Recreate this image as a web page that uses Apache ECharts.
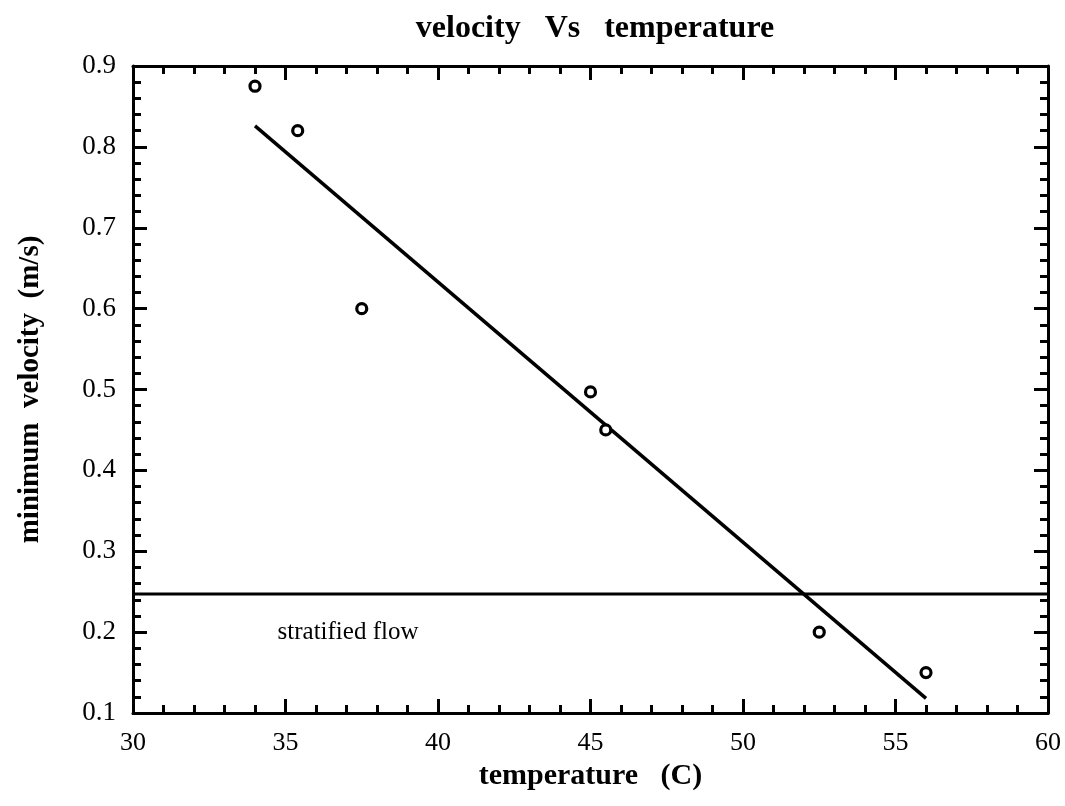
<!DOCTYPE html>
<html>
<head>
<meta charset="utf-8">
<script src="https://cdn.jsdelivr.net/npm/echarts@6/dist/echarts.min.js"></script>
<style>html,body{margin:0;padding:0;background:#fff;}#c{width:1065px;height:806px;}</style>
</head>
<body>
<div id="c"></div>
<script>
const temperatures = [34.0, 35.4, 37.5, 45.0, 45.5, 52.5, 56.0];
const velocities = [0.875, 0.82, 0.6, 0.497, 0.45, 0.2, 0.15];
const fitTemps = [34.0, 56.0];
const fitVelocities = [0.826, 0.118];
const stratTemps = [30, 60];
const stratVelocity = [0.247, 0.247];
const annotation = { text: 'stratified flow', x: 37.05, y: 0.2 };

const FONT = '"Liberation Serif", "Times New Roman", serif';
const chart = echarts.init(document.getElementById('c'), null, { renderer: 'canvas' });

const axisCommon = {
  type: 'value',
  axisLine: { show: true, onZero: false, lineStyle: { color: '#000', width: 3 } },
  axisTick: { show: true, inside: true, length: 14, lineStyle: { color: '#000', width: 3 } },
  minorTick: { show: true, splitNumber: 5, length: 8, lineStyle: { color: '#000', width: 3 } },
  splitLine: { show: false },
  minorSplitLine: { show: false }
};

chart.setOption({
  animation: false,
  backgroundColor: '#fff',
  title: {
    text: 'velocity   Vs   temperature',
    left: 590,
    textAlign: 'center',
    top: 8,
    textStyle: { fontFamily: FONT, fontWeight: 'bold', fontSize: 32, color: '#000' }
  },
  grid: { left: 133, right: 17, top: 66, bottom: 93 },
  xAxis: [
    Object.assign({}, axisCommon, {
      min: 30, max: 60, interval: 5, position: 'bottom',
      name: 'temperature   (C)', nameLocation: 'middle', nameGap: 46,
      nameTextStyle: { fontFamily: FONT, fontWeight: 'bold', fontSize: 30, color: '#000' },
      axisLabel: { fontFamily: FONT, fontSize: 26, color: '#000', margin: 17 }
    }),
    Object.assign({}, axisCommon, {
      min: 30, max: 60, interval: 5, position: 'top',
      axisLabel: { show: false }
    })
  ],
  yAxis: [
    Object.assign({}, axisCommon, {
      min: 0.1, max: 0.9, interval: 0.1, position: 'left',
      name: 'minimum  velocity  (m/s)', nameLocation: 'middle', nameGap: 88,
      nameTextStyle: { fontFamily: FONT, fontWeight: 'bold', fontSize: 29, color: '#000' },
      axisLabel: { fontFamily: FONT, fontSize: 27, color: '#000', margin: 17, formatter: v => v.toFixed(1) }
    }),
    Object.assign({}, axisCommon, {
      min: 0.1, max: 0.9, interval: 0.1, position: 'right',
      axisLabel: { show: false }
    })
  ],
  series: [
    {
      type: 'line',
      data: stratTemps.map((t, i) => [t, stratVelocity[i]]),
      symbol: 'none',
      lineStyle: { color: '#000', width: 3 },
      z: 2
    },
    {
      type: 'line',
      data: fitTemps.map((t, i) => [t, fitVelocities[i]]),
      symbol: 'none',
      lineStyle: { color: '#000', width: 3.5 },
      z: 3
    },
    {
      type: 'scatter',
      data: temperatures.map((t, i) => [t, velocities[i]]),
      symbol: 'circle',
      symbolSize: 10,
      itemStyle: { color: '#fff', borderColor: '#000', borderWidth: 3.2, opacity: 1 },
      z: 4
    },
    {
      type: 'scatter',
      data: [[annotation.x, annotation.y]],
      symbolSize: 0,
      itemStyle: { color: '#fff', opacity: 1 },
      label: {
        show: true, position: 'inside', formatter: annotation.text,
        fontFamily: FONT, fontSize: 25, color: '#000', opacity: 1,
        textBorderWidth: 0, textBorderColor: 'transparent'
      },
      z: 5
    }
  ]
});
</script>
</body>
</html>
